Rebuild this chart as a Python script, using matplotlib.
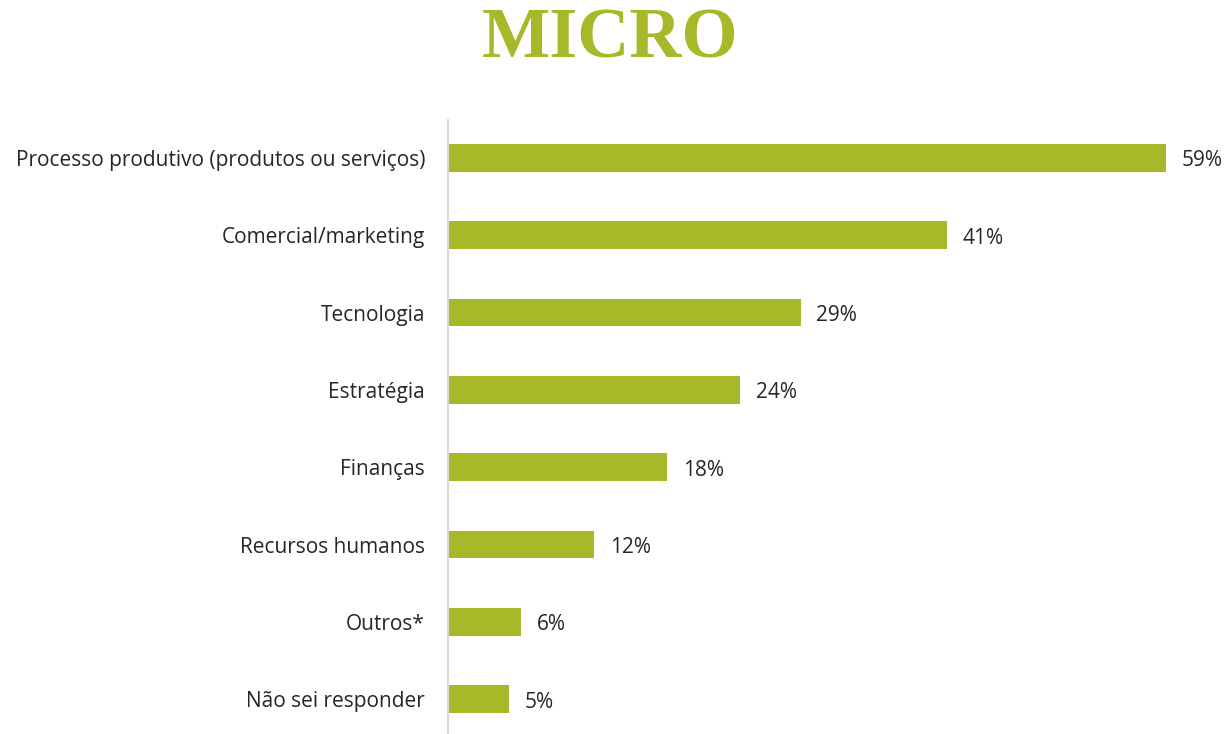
import matplotlib
matplotlib.use("Agg")
import matplotlib.pyplot as plt

categories = ["Processo produtivo (produtos ou serviços)", "Comercial/marketing",
              "Tecnologia", "Estratégia", "Finanças", "Recursos humanos",
              "Outros*", "Não sei responder"]
values = [59, 41, 29, 24, 18, 12, 6, 5]

GREEN = "#A7B829"

fig = plt.figure(figsize=(12.27, 7.34), dpi=100)
ax = fig.add_axes([448 / 1227, 0.0, 754 / 1227, 614 / 734])

pos = list(range(len(categories)))
ax.barh(pos, values, height=0.36, color=GREEN)
for p, v in zip(pos, values):
    ax.text(v + 1.3, p + 0.04, f"{v}%", va="center", ha="left",
            fontsize=15, family="Open Sans", color="#262626")

ax.set_xlim(0, 62)
ax.set_ylim(7.45, -0.49)
ax.set_yticks(pos)
ax.set_yticklabels(categories, fontsize=15, family="Open Sans", color="#262626")
ax.tick_params(axis="y", length=0, pad=16.5)
ax.set_xticks([])
for s in ["top", "right", "bottom"]:
    ax.spines[s].set_visible(False)
ax.spines["left"].set_color("#D9D9D9")
ax.spines["left"].set_linewidth(1.5)

fig.text(610 / 1227, 1 - 40 / 734, "MICRO", ha="center", va="center",
         fontsize=52, fontweight="bold", family="Liberation Serif", color=GREEN)

fig.savefig("out.png", dpi=100)
